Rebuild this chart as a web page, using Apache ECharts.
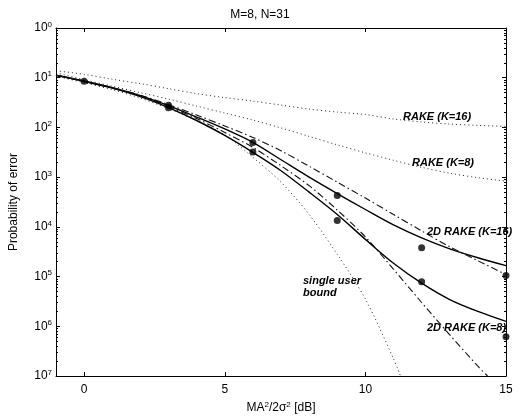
<!DOCTYPE html>
<html lang="en">
<head>
    <meta charset="UTF-8">
    <title>M=8, N=31</title>
    <script src="https://cdn.jsdelivr.net/npm/echarts@6/dist/echarts.min.js"></script>
    <style>
        html, body { margin: 0; padding: 0; background: #fff; }
        #main { width: 520px; height: 419px; }
    </style>
</head>
<body>
<div id="main"></div>
<script type="text/javascript">
// x values (dB) shared by the curves
var snr = [-1, 0, 1, 2, 3, 4, 5, 6, 7, 8, 9, 10, 11, 12, 13, 14, 15];

// dotted RAKE curves
var rakeK16 = [0.138, 0.117, 0.0933, 0.0759, 0.0603, 0.0479, 0.0398, 0.0339, 0.0282, 0.0234, 0.0204, 0.0182, 0.0148, 0.0129, 0.0117, 0.0110, 0.0105];
var rakeK8 = [0.126, 0.0912, 0.0676, 0.0501, 0.0372, 0.0269, 0.0195, 0.0141, 0.00977, 0.00661, 0.00447, 0.00309, 0.00219, 0.00158, 0.00120, 0.000977, 0.000832];

// single user bound (dotted), ends where it leaves the axis
var singleX = [-1, 0, 1, 2, 3, 4, 5, 6, 7, 8, 9, 10, 11, 11.25];
var singleUser = [0.107, 0.0794, 0.0575, 0.0389, 0.0240, 0.0138, 0.00708, 0.00251, 7.94e-4, 1.78e-4, 2.82e-5, 3.55e-6, 2.24e-7, 1e-7];

// 2D RAKE solid curves
var rake2dK16 = [0.112, 0.0851, 0.0631, 0.0437, 0.0275, 0.0162, 0.00933, 0.00501, 0.00224, 0.001, 4.68e-4, 2.24e-4, 1.10e-4, 6.03e-5, 3.63e-5, 2.40e-5, 1.66e-5];
var rake2dK8 = [0.112, 0.0851, 0.0617, 0.0417, 0.0251, 0.0138, 0.00692, 0.00316, 0.00135, 5.01e-4, 1.78e-4, 5.62e-5, 1.86e-5, 7.41e-6, 3.47e-6, 2.0e-6, 1.26e-6];

// dash-dot curves
var dashK16 = [0.112, 0.0851, 0.0631, 0.0447, 0.0288, 0.0178, 0.0107, 0.00631, 0.00339, 0.00166, 7.94e-4, 3.80e-4, 1.78e-4, 8.32e-5, 3.98e-5, 2.09e-5, 1.10e-5];
var dashK8X = [-1, 0, 1, 2, 3, 4, 5, 6, 7, 8, 9, 10, 11, 12, 13, 14, 14.35];
var dashK8 = [0.112, 0.0851, 0.0617, 0.0427, 0.0263, 0.0151, 0.00794, 0.00398, 0.0017, 6.76e-4, 2.19e-4, 6.31e-5, 1.41e-5, 3.02e-6, 6.76e-7, 1.58e-7, 1e-7];

// simulated points
var simX = [0, 3, 3, 6, 6, 9, 9, 12, 12, 15, 15];
var simY = [0.085, 0.028, 0.025, 0.005, 0.0032, 4.27e-4, 1.35e-4, 3.8e-5, 7.9e-6, 1.05e-5, 6.2e-7];

var xTicks = [0, 5, 10, 15];

function pairs(xs, ys) {
    var out = [];
    for (var i = 0; i < xs.length; i++) {
        out.push([xs[i], ys[i]]);
    }
    return out;
}

var font = "'Liberation Sans', Arial, sans-serif";
var dotted = { color: '#222', width: 1, type: [1, 3] };
var solid = { color: '#000', width: 1.4, type: 'solid' };
var dashdot = { color: '#111', width: 1.1, type: [7, 3, 1.5, 3] };

function curve(data, style) {
    return {
        type: 'line', data: data, smooth: 0.3, symbol: 'none',
        lineStyle: style, silent: true, z: 3
    };
}

function yLabel(value) {
    var e = Math.round(Math.log10(value));
    return '{b|10}{s|' + Math.abs(e) + '}';
}

var labelText = { fontFamily: font, fontSize: 11, fontWeight: 'bold', fontStyle: 'italic', fill: '#000' };

var myChart = echarts.init(document.getElementById('main'));
myChart.setOption({
    animation: false,
    backgroundColor: '#fff',
    title: {
        text: 'M=8, N=31', left: 'center', top: 4,
        textStyle: { fontFamily: font, fontSize: 12, fontWeight: 'normal', color: '#000' }
    },
    grid: { left: 52, right: 14, top: 28, bottom: 38 },
    xAxis: [{
        type: 'value', min: -1, max: 15,
        name: 'MA{sup|2}/2σ{sup|2} [dB]', nameLocation: 'middle', nameGap: 22,
        nameTextStyle: {
            fontFamily: font, fontSize: 12, color: '#000',
            rich: { sup: { fontSize: 8, verticalAlign: 'top', padding: [0, 0, 6, 0] } }
        },
        axisLine: { show: true, onZero: false, lineStyle: { color: '#000', width: 1 } },
        axisTick: { show: true, inside: true, length: 4, customValues: xTicks, lineStyle: { color: '#000' } },
        axisLabel: { customValues: xTicks, fontFamily: font, fontSize: 12, color: '#000', margin: 8 },
        splitLine: { show: false }
    }, {
        type: 'value', min: -1, max: 15, position: 'top',
        axisLine: { show: true, onZero: false, lineStyle: { color: '#000', width: 1 } },
        axisTick: { show: true, inside: true, length: 4, customValues: xTicks, lineStyle: { color: '#000' } },
        axisLabel: { show: false },
        splitLine: { show: false }
    }],
    yAxis: [{
        type: 'log', logBase: 10, min: 1e-7, max: 1, interval: 1,
        name: 'Probability of error', nameLocation: 'middle', nameGap: 36,
        nameTextStyle: { fontFamily: font, fontSize: 12, color: '#000' },
        axisLine: { show: true, onZero: false, lineStyle: { color: '#000', width: 1 } },
        axisTick: { show: true, inside: true, length: 4, lineStyle: { color: '#000' } },
        minorTick: { show: true, splitNumber: 9, length: 2, lineStyle: { color: '#000' } },
        axisLabel: {
            formatter: yLabel, margin: 4,
            rich: {
                b: { fontFamily: font, fontSize: 12, color: '#000' },
                s: { fontFamily: font, fontSize: 8, color: '#000', verticalAlign: 'top', padding: [0, 0, 7, 0] }
            }
        },
        splitLine: { show: false },
        minorSplitLine: { show: false }
    }, {
        type: 'log', logBase: 10, min: 1e-7, max: 1, interval: 1, position: 'right',
        axisLine: { show: true, onZero: false, lineStyle: { color: '#000', width: 1 } },
        axisTick: { show: true, inside: true, length: 4, lineStyle: { color: '#000' } },
        minorTick: { show: true, splitNumber: 9, length: 2, lineStyle: { color: '#000' } },
        axisLabel: { show: false },
        splitLine: { show: false }
    }],
    series: [
        curve(pairs(snr, rakeK16), dotted),
        curve(pairs(snr, rakeK8), dotted),
        curve(pairs(singleX, singleUser), dotted),
        curve(pairs(snr, rake2dK16), solid),
        curve(pairs(snr, rake2dK8), solid),
        curve(pairs(snr, dashK16), dashdot),
        curve(pairs(dashK8X, dashK8), dashdot),
        {
            type: 'scatter', data: pairs(simX, simY), symbol: 'circle', symbolSize: 7,
            itemStyle: { color: '#000' }, clip: false, silent: true, z: 4
        }
    ],
    graphic: [
        { type: 'text', left: 403, top: 111, style: Object.assign({ text: 'RAKE (K=16)' }, labelText) },
        { type: 'text', left: 412, top: 157, style: Object.assign({ text: 'RAKE (K=8)' }, labelText) },
        { type: 'text', left: 427, top: 226, style: Object.assign({ text: '2D RAKE (K=16)' }, labelText) },
        { type: 'text', left: 427, top: 322, style: Object.assign({ text: '2D RAKE (K=8)' }, labelText) },
        { type: 'text', left: 303, top: 275, style: Object.assign({ text: 'single user\nbound', lineHeight: 12 }, labelText) }
    ]
});
</script>
</body>
</html>
